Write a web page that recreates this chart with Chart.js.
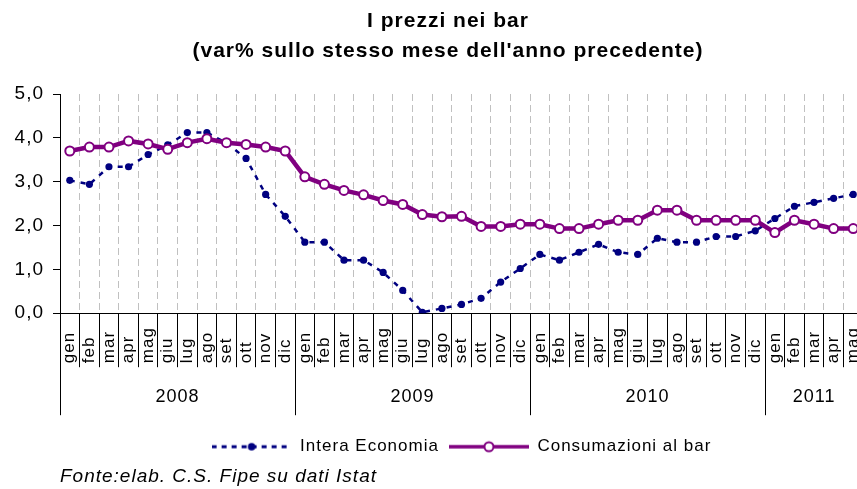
<!DOCTYPE html>
<html lang="it">
<head>
<meta charset="utf-8">
<title>I prezzi nei bar</title>
<script src="https://cdn.jsdelivr.net/npm/chart.js@4.4.1/dist/chart.umd.min.js"></script>
<style>
html, body { margin: 0; padding: 0; background: #fff; overflow: hidden; }
#wrap { width: 896px; height: 489px; }
</style>
</head>
<body>
<div id="wrap"><canvas id="prezziChart" width="896" height="489"></canvas></div>
<script>
const titleLines = ["I prezzi nei bar", "(var% sullo stesso mese dell'anno precedente)"]
const sourceNote = "Fonte:elab. C.S. Fipe su dati Istat"

const monthNames = ["gen", "feb", "mar", "apr", "mag", "giu", "lug", "ago", "set", "ott", "nov", "dic"]
const years = ["2008", "2009", "2010", "2011"]
const monthsPerYear = [12, 12, 12, 5]
const monthLabels = monthsPerYear.flatMap((n) => monthNames.slice(0, n))

// var% tendenziale
const interaEconomia = [
	3.03, 2.94, 3.34, 3.34, 3.62, 3.84, 4.12, 4.12, 3.88, 3.53, 2.71, 2.21,
	1.62, 1.62, 1.21, 1.21, 0.93, 0.52, 0.02, 0.11, 0.20, 0.34, 0.71, 1.02,
	1.34, 1.21, 1.39, 1.57, 1.39, 1.34, 1.71, 1.62, 1.62, 1.75, 1.75, 1.88,
	2.16, 2.44, 2.53, 2.62, 2.71,
]
const consumazioniBar = [
	3.70, 3.79, 3.79, 3.93, 3.86, 3.74, 3.89, 3.98, 3.89, 3.85, 3.79, 3.70,
	3.11, 2.94, 2.80, 2.70, 2.57, 2.48, 2.25, 2.20, 2.21, 1.98, 1.98, 2.03,
	2.03, 1.93, 1.93, 2.03, 2.12, 2.12, 2.35, 2.35, 2.12, 2.12, 2.12, 2.12,
	1.84, 2.12, 2.03, 1.93, 1.93,
]

const yTicks = [0, 1, 2, 3, 4, 5]

const FONT = '"Liberation Sans", Arial, sans-serif'
const BLUE = "#000080"
const PURPLE = "#800080"

function legendMark(draw) {
	const c = document.createElement("canvas")
	c.width = 80
	c.height = 18
	draw(c.getContext("2d"))
	return c
}

const blueMark = legendMark((g) => {
	g.strokeStyle = BLUE
	g.lineWidth = 3
	g.setLineDash([5, 5])
	g.beginPath()
	g.moveTo(0, 9)
	g.lineTo(80, 9)
	g.stroke()
	g.fillStyle = BLUE
	g.beginPath()
	g.arc(40, 9, 3.8, 0, Math.PI * 2)
	g.fill()
})

const purpleMark = legendMark((g) => {
	g.strokeStyle = PURPLE
	g.lineWidth = 3.5
	g.beginPath()
	g.moveTo(0, 9)
	g.lineTo(80, 9)
	g.stroke()
	g.fillStyle = "#fff"
	g.lineWidth = 2
	g.beginPath()
	g.arc(40, 9, 4.5, 0, Math.PI * 2)
	g.fill()
	g.stroke()
})

const spacing = {
	id: "spacing",
	beforeUpdate(chart) { chart.ctx.letterSpacing = "1px" },
	beforeDraw(chart) { chart.ctx.letterSpacing = "1px" },
}

// month labels under the axis, year groups below them
const axisDecor = {
	id: "axisDecor",
	afterDraw(chart) {
		const { ctx, chartArea, scales } = chart
		const x = scales.x
		const base = chartArea.bottom
		const half = (x.getPixelForValue(1) - x.getPixelForValue(0)) / 2
		ctx.save()
		ctx.fillStyle = "#000"
		ctx.font = "17px " + FONT
		ctx.textBaseline = "middle"
		ctx.textAlign = "left"
		monthLabels.forEach((m, i) => {
			ctx.save()
			ctx.translate(x.getPixelForValue(i), base + 50)
			ctx.rotate(-Math.PI / 2)
			ctx.fillText(m, 0, 0)
			ctx.restore()
		})
		ctx.strokeStyle = "#000"
		ctx.lineWidth = 1
		ctx.font = "18px " + FONT
		ctx.textAlign = "center"
		let start = 0
		years.forEach((yr, k) => {
			const end = start + monthsPerYear[k] - 1
			const left = x.getPixelForValue(start) - half
			const right = x.getPixelForValue(end) + half
			const lx = Math.round(left) + 0.5
			ctx.beginPath()
			ctx.moveTo(lx, base)
			ctx.lineTo(lx, base + 102)
			ctx.stroke()
			ctx.fillText(yr, (left + right) / 2, base + 84)
			start = end + 1
		})
		ctx.restore()
	},
}

new Chart(document.getElementById("prezziChart"), {
	type: "line",
	data: {
		labels: monthLabels,
		datasets: [
			{
				label: "Consumazioni al bar",
				data: consumazioniBar,
				borderColor: PURPLE,
				borderWidth: 4.5,
				pointRadius: 4.5,
				pointBorderWidth: 2,
				pointBackgroundColor: "#fff",
				pointBorderColor: PURPLE,
				tension: 0,
			},
			{
				label: "Intera Economia",
				data: interaEconomia,
				borderColor: BLUE,
				borderWidth: 2.5,
				borderDash: [5, 6],
				pointRadius: 3.6,
				pointBorderWidth: 0,
				pointBackgroundColor: BLUE,
				pointBorderColor: BLUE,
				tension: 0,
			},
		],
	},
	options: {
		responsive: false,
		animation: false,
		devicePixelRatio: 1,
		events: [],
		layout: { padding: 0 },
		scales: {
			x: {
				offset: true,
				grid: {
					offset: true,
					color: "#c0c0c0",
					lineWidth: 1,
					drawTicks: true,
					tickLength: 54,
					tickColor: "#000",
					tickWidth: 1,
					tickBorderDash: [],
				},
				border: { display: true, color: "#000", width: 1, dash: [7, 4] },
				ticks: { display: false },
				afterFit(s) { s.height = 115 },
			},
			y: {
				min: 0,
				max: 5,
				afterBuildTicks(s) { s.ticks = yTicks.map((v) => ({ value: v })) },
				ticks: {
					padding: 9,
					color: "#000",
					font: { family: FONT, size: 19 },
					callback: (v) => v.toFixed(1).replace(".", ","),
				},
				grid: { drawOnChartArea: false, tickLength: 7, color: "#000" },
				border: { display: true, color: "#000", width: 1 },
				afterFit(s) { s.width = 60 },
			},
			yPad: {
				position: "right",
				ticks: { display: false },
				grid: { display: false },
				border: { display: false },
				afterFit(s) { s.width = 33 },
			},
		},
		plugins: {
			tooltip: { enabled: false },
			title: {
				display: true,
				text: titleLines,
				color: "#000",
				font: { family: FONT, size: 21, weight: "bold", lineHeight: 30 / 21 },
				padding: { top: 6, bottom: 28 },
			},
			legend: {
				position: "bottom",
				fullSize: false,
				reverse: true,
				labels: {
					usePointStyle: true,
					pointStyleWidth: 80,
					color: "#000",
					padding: 10,
					font: { family: FONT, size: 17 },
					generateLabels(chart) {
						const items = Chart.defaults.plugins.legend.labels.generateLabels(chart)
						items.forEach((it) => { it.pointStyle = it.datasetIndex === 0 ? purpleMark : blueMark })
						return items
					},
				},
			},
			subtitle: {
				display: true,
				position: "bottom",
				align: "start",
				fullSize: false,
				text: sourceNote,
				color: "#000",
				font: { family: FONT, size: 19, style: "italic", lineHeight: 1.2 },
				padding: { top: 0, bottom: 1 },
			},
		},
	},
	plugins: [spacing, axisDecor],
})
</script>
</body>
</html>
